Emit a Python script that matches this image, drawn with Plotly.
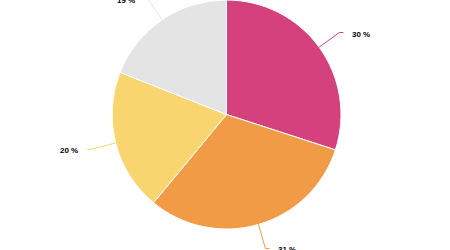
import math
import plotly.graph_objects as go

categories = ["A", "B", "C", "D"]
values = [30, 31, 20, 19]
label_texts = ["30 %", "31 %", "20 %", "19 %"]
colors = ["#D5417C", "#F29B47", "#F8D56F", "#E4E4E4"]

W, H = 450, 250
CX, CY, R = 226.5, 114.5, 114.5  # pie centre / radius in pixels (layout)
LEAD = 25      # radial leader length
HSEG = 4       # horizontal leader segment
GAP = 7        # gap between leader end and text

fig = go.Figure()
fig.add_trace(go.Pie(
    labels=categories, values=values, sort=False, direction="clockwise",
    rotation=0, textinfo="none", hoverinfo="none",
    marker=dict(colors=colors, line=dict(color="#FFFFFF", width=1)),
    domain=dict(x=[(CX - R) / W, (CX + R) / W], y=[1 - (CY + R) / H, 1 - (CY - R) / H]),
    showlegend=False,
))

def px(x):
    return x / W

def py(y):
    return 1 - y / H

total = sum(values)
cum = 0
shapes = []
annotations = []
for v, t, c in zip(values, label_texts, colors):
    mid = (cum + v / 2) / total * 2 * math.pi
    cum += v
    s, co = math.sin(mid), math.cos(mid)
    x0, y0 = CX + R * s, CY - R * co
    x1, y1 = CX + (R + LEAD) * s, CY - (R + LEAD) * co
    side = 1 if s >= 0 else -1
    x2 = x1 + side * HSEG
    path = f"M {px(x0)} {py(y0)} L {px(x1)} {py(y1)} L {px(x2)} {py(y1)}"
    shapes.append(dict(type="path", path=path, xref="paper", yref="paper",
                       line=dict(color=c, width=1)))
    annotations.append(dict(
        x=px(x2 + side * GAP), y=py(y1 + 1.5), xref="paper", yref="paper",
        text=t, showarrow=False, xanchor="left" if side > 0 else "right",
        yanchor="middle",
        font=dict(family="Liberation Sans, Arial, sans-serif", size=8,
                  color="#000000", weight="bold"),
    ))

fig.update_layout(
    width=W, height=H, margin=dict(l=0, r=0, t=0, b=0),
    paper_bgcolor="#FFFFFF", plot_bgcolor="#FFFFFF",
    shapes=shapes, annotations=annotations,
)
fig.write_html("out.html")
